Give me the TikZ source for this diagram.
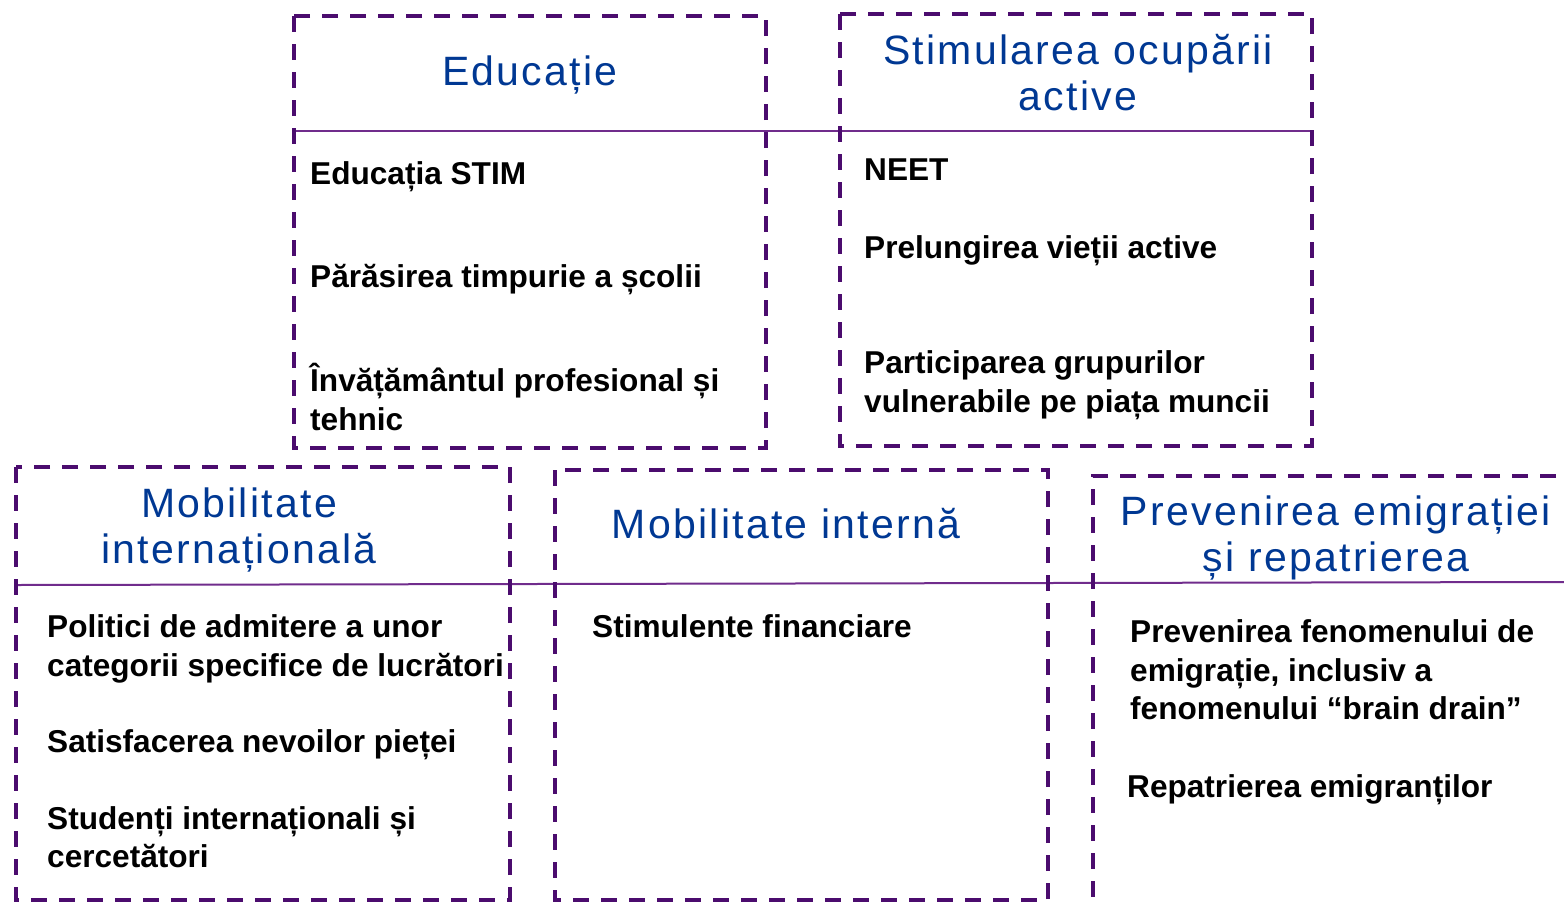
\documentclass[tikz,border=0pt]{standalone}
\usepackage{fontspec}
\setmainfont{Liberation Sans}
\definecolor{boxpurple}{RGB}{75,12,110}
\definecolor{linepurple}{RGB}{112,44,140}
\definecolor{titleblue}{RGB}{0,56,147}
\tikzset{
  dashbox/.style={draw=boxpurple, line width=3.6pt, dash pattern=on 16pt off 12pt},
  headline/.style={draw=linepurple, line width=2pt},
  titletext/.style={text=titleblue, align=center, inner sep=0pt,
    font=\fontsize{41}{46}\selectfont\addfontfeatures{LetterSpace=5.5}},
  itemtext/.style={text=black, align=left, inner sep=0pt, anchor=west,
    font=\fontsize{31.6}{38.5}\selectfont\bfseries}
}
\begin{document}
\begin{tikzpicture}[x=1pt,y=-1pt]
\useasboundingbox (0,0) rectangle (1564,903);
\clip (0,0) rectangle (1564,903);
% header lines
\draw[headline] (294,131) -- (1312,131);
\draw[headline] (16,585) -- (1564,582);
% boxes
\draw[dashbox] (294,16) rectangle (766,448);
\draw[dashbox] (840,14) rectangle (1312,446);
\draw[dashbox] (16,467) rectangle (510,900);
\draw[dashbox] (555,470) rectangle (1048,900);
\draw[dashbox] (1556,476) -- (1093,476) -- (1093,915);
% titles
\node[titletext] (t1) at (530,75) {Educație};
\node[titletext] (t2) at (1078,73) {Stimularea ocupării\\active};
\node[titletext] (t3) at (239,530) {Mobilitate\\internațională};
\node[titletext] (t4) at (786,524) {Mobilitate internă};
\node[titletext] (t5) at (1336,538) {Prevenirea emigrației\\și repatrierea};
% items: Educatie
\node[itemtext] (e1) at (310,177) {Educația STIM};
\node[itemtext] (e2) at (310,280) {Părăsirea timpurie a școlii};
\node[itemtext] (e3) at (310,397) {Învățământul profesional și\\tehnic};
% items: Stimularea
\node[itemtext] (s1) at (864,170) {NEET};
\node[itemtext] (s2) at (864,251) {Prelungirea vieții active};
\node[itemtext] (s3) at (864,385) {Participarea grupurilor\\vulnerabile pe piața muncii};
% items: Mobilitate internationala
\node[itemtext] (m1) at (47,649) {Politici de admitere a unor\\categorii specifice de lucrători};
\node[itemtext] (m2) at (47,745) {Satisfacerea nevoilor pieței};
\node[itemtext] (m3) at (47,837) {Studenți internaționali și\\cercetători};
% items: Mobilitate interna
\node[itemtext] (i1) at (592,626) {Stimulente financiare};
% items: Prevenirea
\node[itemtext] (p1) at (1130,670) {Prevenirea fenomenului de\\emigrație, inclusiv a\\fenomenului “brain drain”};
\node[itemtext] (p2) at (1127,790) {Repatrierea emigranților};
\end{tikzpicture}
\end{document}
